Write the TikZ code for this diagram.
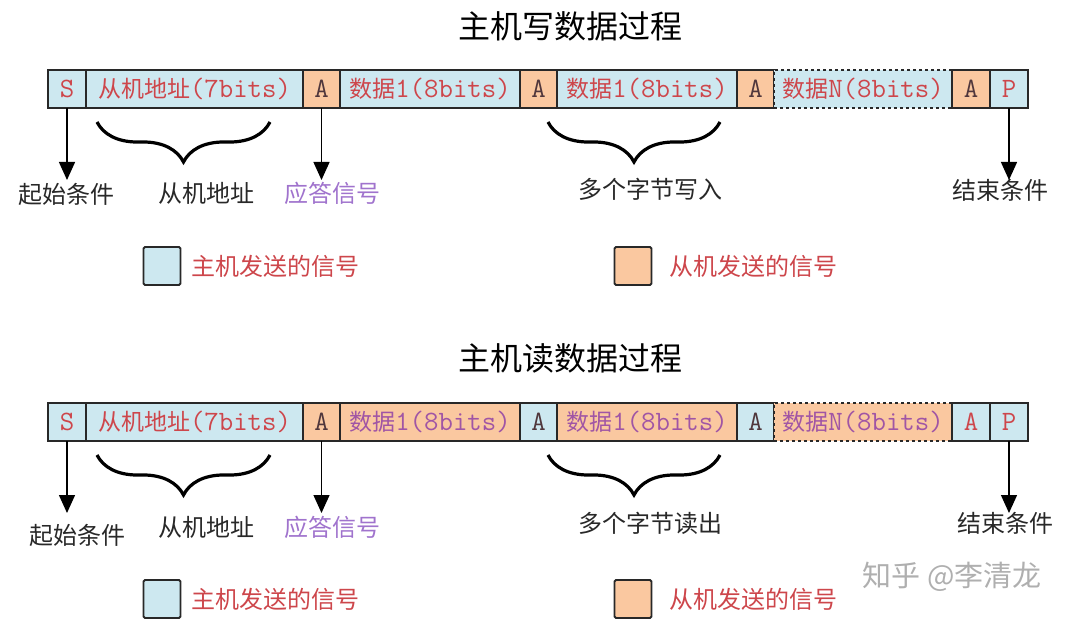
\documentclass[tikz,border=0pt]{standalone}
\usepackage{fontspec}
\setmainfont{Noto Sans CJK SC}
\usetikzlibrary{arrows.meta}
\usetikzlibrary{positioning}
\usetikzlibrary{decorations.pathreplacing}

\definecolor{mstfill}{RGB}{205,232,240}
\definecolor{slvfill}{RGB}{250,200,160}
\definecolor{boxred}{RGB}{205,70,75}
\definecolor{boxpurple}{RGB}{160,85,165}
\definecolor{ackdark}{RGB}{80,55,60}
\definecolor{ackpurple}{RGB}{160,115,205}
\definecolor{linec}{RGB}{40,40,40}
\definecolor{markgray}{RGB}{175,175,175}

% latin part of the cell texts
\newcommand{\lat}[1]{{\fontsize{28}{30}\selectfont\ttfamily #1}}

\begin{document}
\begin{tikzpicture}[
    x=1pt, y=-1pt,
    cell/.style={draw=linec, line width=1.6pt, minimum height=38pt, inner sep=0pt,
                 outer sep=0pt, font=\fontsize{23}{26}\selectfont},
    mst/.style={cell, fill=mstfill, text=boxred},
    slv/.style={cell, fill=slvfill, text=boxpurple},
    title/.style={font=\fontsize{32}{36}\selectfont, text=black},
    lbl/.style={inner sep=0pt, font=\fontsize{24}{26}\selectfont, text=linec},
    keybox/.style={draw=linec, line width=1.8pt, rounded corners=1.5pt,
                   minimum width=37pt, minimum height=38pt, inner sep=0pt},
    keytxt/.style={inner sep=0pt, font=\fontsize{24}{26}\selectfont, text=boxred},
    arr/.style={draw=black, line width=1.4pt, -{Triangle[length=18pt,width=16pt]}},
    brc/.style={draw=black, line width=3.2pt,
                decorate, decoration={brace, mirror, amplitude=40pt}}
]
\useasboundingbox (0,0) rectangle (1080,620);

% ---------- master write ----------
\node[title] (wtitle) at (570,26) {主机写数据过程};

\node[mst, minimum width=38pt, anchor=west] (ws) at (48,89) {\lat{S}};
\node[mst, minimum width=217pt, right=0pt of ws] (waddr) {从机地址\lat{(7bits)}};
\node[slv, minimum width=37pt, text=ackdark, right=0pt of waddr] (wa1) {\lat{A}};
\node[mst, minimum width=180pt, right=0pt of wa1] (wd1) {数据\lat{1(8bits)}};
\node[slv, minimum width=37pt, text=ackdark, right=0pt of wd1] (wa2) {\lat{A}};
\node[mst, minimum width=180pt, right=0pt of wa2] (wd2) {数据\lat{1(8bits)}};
\node[slv, minimum width=37pt, text=ackdark, right=0pt of wd2] (wa3) {\lat{A}};
\node[mst, minimum width=178pt, dashed, right=0pt of wa3] (wdn) {数据\lat{N(8bits)}};
\node[slv, minimum width=38pt, text=ackdark, right=0pt of wdn] (wa4) {\lat{A}};
\node[mst, minimum width=38pt, right=0pt of wa4] (wp) {\lat{P}};

\coordinate (wtip) at (0,180);
\node[lbl] (wstart) at (67,194) {起始条件};
\node[lbl] (waddrl) at (206,193) {从机地址};
\node[lbl, text=ackpurple] (wack) at (332,193) {应答信号};
\node[lbl] (wmulti) at (650,189) {多个字节写入};
\node[lbl] (wstop) at (1000,190) {结束条件};

\draw[arr] (ws.south) -- (ws.south |- wtip);
\draw[arr] (wa1.south) -- (wa1.south |- wtip);
\draw[arr] (wp.south) -- (wp.south |- wtip);
\draw[brc] (97,122) -- (270,122);
\draw[brc] (548,122) -- (720,122);

% legend
\node[keybox, fill=mstfill] (wkm) at (162,266) {};
\node[keytxt, right=10pt of wkm] (wkmt) {主机发送的信号};
\node[keybox, fill=slvfill] (wks) at (633,266) {};
\node[keytxt, right=17pt of wks] (wkst) {从机发送的信号};

% ---------- master read ----------
\node[title] (rtitle) at (570,358) {主机读数据过程};

\node[mst, minimum width=38pt, anchor=west] (rs) at (48,422) {\lat{S}};
\node[mst, minimum width=217pt, right=0pt of rs] (raddr) {从机地址\lat{(7bits)}};
\node[slv, minimum width=37pt, text=ackdark, right=0pt of raddr] (ra1) {\lat{A}};
\node[slv, minimum width=180pt, right=0pt of ra1] (rd1) {数据\lat{1(8bits)}};
\node[mst, minimum width=37pt, text=ackdark, right=0pt of rd1] (ra2) {\lat{A}};
\node[slv, minimum width=180pt, right=0pt of ra2] (rd2) {数据\lat{1(8bits)}};
\node[mst, minimum width=37pt, text=ackdark, right=0pt of rd2] (ra3) {\lat{A}};
\node[slv, minimum width=178pt, dashed, right=0pt of ra3] (rdn) {数据\lat{N(8bits)}};
\node[mst, minimum width=38pt, right=0pt of rdn] (ra4) {\lat{A}};
\node[mst, minimum width=38pt, right=0pt of ra4] (rp) {\lat{P}};

\coordinate (rtip) at (0,513);
\node[lbl] (rstart) at (78,535) {起始条件};
\node[lbl] (raddrl) at (206,527) {从机地址};
\node[lbl, text=ackpurple] (rack) at (332,527) {应答信号};
\node[lbl] (rmulti) at (650,523) {多个字节读出};
\node[lbl] (rstop) at (1005,523) {结束条件};

\draw[arr] (rs.south) -- (rs.south |- rtip);
\draw[arr] (ra1.south) -- (ra1.south |- rtip);
\draw[arr] (rp.south) -- (rp.south |- rtip);
\draw[brc] (97,455) -- (270,455);
\draw[brc] (548,455) -- (720,455);

% legend
\node[keybox, fill=mstfill] (rkm) at (162,599) {};
\node[keytxt, right=10pt of rkm] (rkmt) {主机发送的信号};
\node[keybox, fill=slvfill] (rks) at (633,599) {};
\node[keytxt, right=17pt of rks] (rkst) {从机发送的信号};

\node[font=\fontsize{29}{32}\selectfont, text=markgray] (mark) at (952,577) {知乎 @李清龙};
\end{tikzpicture}
\end{document}
